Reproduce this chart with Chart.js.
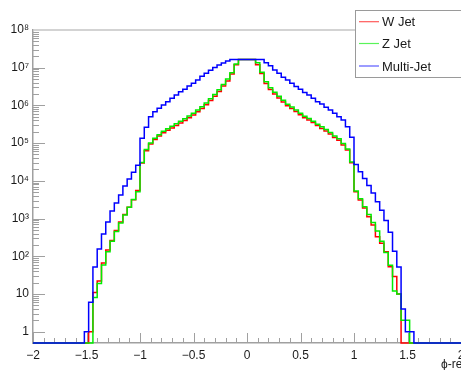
<!DOCTYPE html>
<html><head><meta charset="utf-8">
<script src="https://cdn.jsdelivr.net/npm/chart.js@4.4.0/dist/chart.umd.min.js"></script>
<style>html,body{margin:0;padding:0;background:#fff;overflow:hidden}#wrap{width:461px;height:370px;position:relative}</style>
</head><body><div id="wrap"><canvas id="c" width="461" height="370"></canvas></div>
<script>
// ---- data ----
const xMin = -2, xMax = 2, binWidth = 0.04, yMin = 0.5, yMax = 1e8;
const binLowEdges = Array.from({length: 100}, (_, i) => +(xMin + i * binWidth).toFixed(2));
const xTickValues = [-2, -1.5, -1, -0.5, 0, 0.5, 1, 1.5, 2];
const xTickLabels = ['\u22122', '\u22121.5', '\u22121', '\u22120.5', '0', '0.5', '1', '1.5', '2'];
const yTickValues = [1, 10, 100, 1e3, 1e4, 1e5, 1e6, 1e7, 1e8];
const yTickLabels = ['1', '10', '10\u00b2', '10\u00b3', '10\u2074', '10\u2075', '10\u2076', '10\u2077', '10\u2078'];
const seriesNames = ['W Jet', 'Z Jet', 'Multi-Jet'];
const seriesColors = ['#ff0000', '#00ee00', '#0000ff'];
const xTitle = '\u03d5-re';

const wJet = [0,0,0,0,0,0,0,0,0,0,0,0,0,
  1,11,22,66,146,260,480,810,1280,1990,3150,5500,
  29500,63000,95000,125000,155000,187000,218000,252000,293000,340000,400000,470000,560000,680000,830000,
  1040000,1350000,1740000,2330000,3250000,4450000,6800000,12000000,
  16600000,16600000,16600000,16600000,
  12000000,7000000,3800000,2650000,2000000,1580000,1230000,980000,830000,690000,565000,470000,410000,354000,
  293000,245000,209000,174000,141000,120000,89000,66000,30000,
  5100,3100,1900,1120,675,330,220,132,53,29,10,
  0,0,0,0,0,0,0,0,0,0,0,0,0,0];

const zJet = [0,0,0,0,0,0,0,0,0,0,0,0,0,0,
  8,19,59,132,250,450,760,1240,1990,3200,5100,
  30700,68000,100000,134000,167000,205000,240000,280000,327000,380000,440000,525000,620000,755000,925000,
  1150000,1500000,1950000,2600000,3600000,5000000,7400000,12500000,
  16600000,16600000,16600000,16600000,
  13500000,7600000,4250000,2960000,2240000,1740000,1370000,1070000,910000,755000,620000,515000,450000,380000,
  318000,270000,228000,190000,155000,130000,98000,69500,31500,
  5350,3330,2050,1280,790,470,250,125,58,12,10,2,2,
  0,0,0,0,0,0,0,0,0,0,0,0];

const multiJet = [0,0,0,0,0,0,0,0,0,0,0,0,
  1,6,52,155,390,810,1590,2600,4200,7300,11200,17000,26000,
  134000,263000,500000,680000,835000,1020000,1250000,1540000,1900000,2300000,2700000,3250000,3900000,4700000,5900000,
  7100000,8500000,10200000,11800000,13300000,15100000,
  16600000,16600000,16600000,16600000,16600000,16600000,16600000,16600000,
  13500000,11200000,8700000,7100000,5600000,4700000,3900000,3150000,2700000,2200000,1900000,1540000,1250000,1090000,
  890000,755000,617000,500000,410000,273000,143000,
  27000,17500,11500,7500,4750,2800,1650,880,435,135,52,4,1,1,
  0,0,0,0,0,0,0,0,0,0,0];

// ---- build step points (left edge of each bin + closing right edge); empty bins sit on the frame bottom ----
function histPoints(vals) {
  const pts = binLowEdges.map((x, i) => ({x: x, y: vals[i] > 0 ? vals[i] : yMin}));
  const last = vals[vals.length - 1];
  pts.push({x: xMax, y: last > 0 ? last : yMin});
  return pts;
}

const FONT = "'Liberation Sans', Arial, Helvetica, sans-serif";
const AXIS_COLOR = '#a0a0a0';

const rootDecor = {
  id: 'rootDecor',
  beforeDatasetsDraw(chart) {
    const ctx = chart.ctx, xs = chart.scales.x, ys = chart.scales.y, a = chart.chartArea;
    ctx.save();
    ctx.strokeStyle = AXIS_COLOR;
    ctx.lineWidth = 1;
    // top frame line
    ctx.strokeStyle = '#c4c4c4';
    ctx.lineWidth = 1.5;
    ctx.beginPath(); ctx.moveTo(a.left, a.top); ctx.lineTo(a.right, a.top); ctx.stroke();
    ctx.strokeStyle = AXIS_COLOR;
    ctx.lineWidth = 1;
    // x ticks (inward, upward)
    for (let i = -20; i <= 20; i++) {
      const v = i / 10;
      const px = Math.round(xs.getPixelForValue(v)) + 0.5;
      const major = (i % 5 === 0);
      const len = major ? 10 : 5;
      ctx.beginPath(); ctx.moveTo(px, a.bottom); ctx.lineTo(px, a.bottom - len); ctx.stroke();
    }
    // y ticks (inward, rightward)
    for (let d = 0; d < 8; d++) {
      for (let m = 1; m <= 9; m++) {
        const v = m * Math.pow(10, d);
        const py = Math.round(ys.getPixelForValue(v)) + 0.5;
        const len = (m === 1) ? 12 : 6;
        ctx.beginPath(); ctx.moveTo(a.left, py); ctx.lineTo(a.left + len, py); ctx.stroke();
      }
    }
    // 0.5 minor
    const p05 = Math.round(ys.getPixelForValue(0.5)) + 0.5;
    ctx.restore();
  },
  afterDraw(chart) {
    const ctx = chart.ctx;
    ctx.save();
    // legend box
    const bx = 355.5, by = 10.5, bw = 106, bh = 67;
    ctx.fillStyle = '#ffffff';
    ctx.fillRect(bx, by, bw, bh);
    ctx.strokeStyle = '#9a9a9a';
    ctx.lineWidth = 1;
    ctx.strokeRect(bx, by, bw, bh);
    const rows = [21.7, 43.5, 66];
    ctx.font = '13px ' + FONT;
    ctx.textBaseline = 'middle';
    ctx.textAlign = 'left';
    chart.data.datasets.forEach((ds, i) => {
      const y = rows[i];
      ctx.strokeStyle = ds.borderColor;
      ctx.globalAlpha = 0.65;
      ctx.lineWidth = 1.2;
      ctx.beginPath(); ctx.moveTo(359, y); ctx.lineTo(379, y); ctx.stroke();
      ctx.globalAlpha = 1;
      ctx.fillStyle = '#1a1a1a';
      ctx.fillText(ds.label, 382, y + 1);
    });
    // x axis title
    ctx.font = '12px ' + FONT;
    ctx.textBaseline = 'alphabetic';
    ctx.fillStyle = '#1a1a1a';
    ctx.fillText(xTitle, 441, 368);
    ctx.restore();
  }
};

new Chart(document.getElementById('c'), {
  type: 'line',
  data: {
    datasets: [
      {label: seriesNames[0], data: histPoints(wJet), borderColor: seriesColors[0], order: 3},
      {label: seriesNames[1], data: histPoints(zJet), borderColor: seriesColors[1], order: 2},
      {label: seriesNames[2], data: histPoints(multiJet), borderColor: seriesColors[2], order: 1}
    ].map(d => Object.assign(d, {stepped: 'before', borderWidth: 1.5, pointRadius: 0, fill: false,
      tension: 0, clip: {left: 3, right: 3, top: 3, bottom: 3}}))
  },
  options: {
    responsive: false,
    animation: false,
    devicePixelRatio: 1,
    layout: {padding: {top: 30, left: 0, right: 0, bottom: 0}},
    plugins: {legend: {display: false}, tooltip: {enabled: false}, title: {display: false}},
    events: [],
    scales: {
      x: {
        type: 'linear', min: xMin, max: xMax,
        grid: {display: false, drawTicks: false},
        border: {display: true, color: AXIS_COLOR, width: 1.5},
        afterBuildTicks: s => { s.ticks = xTickValues.map(v => ({value: v})); },
        ticks: {
          autoSkip: false, maxRotation: 0, padding: 5,
          font: {family: FONT, size: 12}, color: '#1a1a1a',
          callback: (v) => { const i = xTickValues.indexOf(v); return i >= 0 ? xTickLabels[i] : ''; }
        },
        afterFit: s => { s.height = 27; s.paddingLeft = 0; s.paddingRight = 0; }
      },
      y: {
        type: 'logarithmic', min: yMin, max: yMax,
        grid: {display: false, drawTicks: false},
        border: {display: true, color: AXIS_COLOR, width: 1.5},
        afterBuildTicks: s => { s.ticks = yTickValues.map(v => ({value: v})); },
        ticks: {
          autoSkip: false, padding: 4,
          font: {family: FONT, size: 12}, color: '#1a1a1a',
          callback: (v) => { const i = yTickValues.indexOf(v); return i >= 0 ? yTickLabels[i] : ''; }
        },
        afterFit: s => { s.width = 33; s.paddingTop = 0; s.paddingBottom = 0; }
      }
    }
  },
  plugins: [rootDecor]
});
</script>
</body></html>
